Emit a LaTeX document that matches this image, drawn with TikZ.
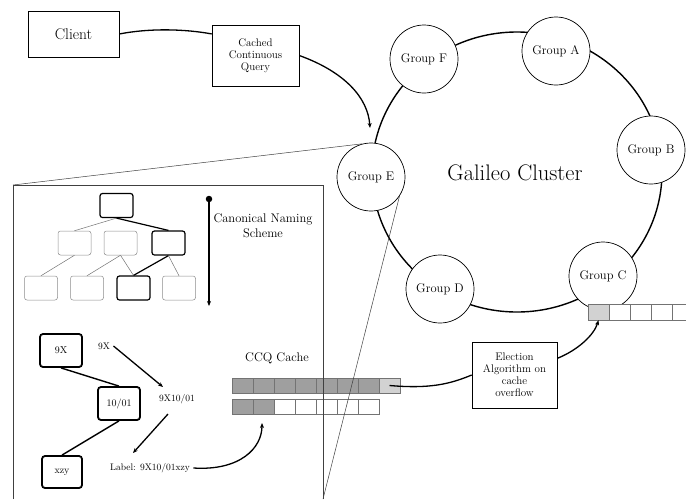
\documentclass[tikz,border=0pt]{standalone}
\usetikzlibrary{arrows.meta,calc}
\begin{document}
\begin{tikzpicture}[x=1pt,y=-1pt,
  box/.style={draw, line width=0.6pt, rectangle, inner sep=2pt, align=center},
  grp/.style={draw, circle, fill=white, line width=0.7pt, minimum size=68pt, inner sep=0pt, font=\fontsize{12.5}{14}\selectfont},
  tbox/.style={draw=black!45, rectangle, rounded corners=2.5pt, minimum width=33pt, minimum height=24pt, inner sep=0pt, line width=0.5pt},
  tboxb/.style={tbox, draw=black, line width=1.2pt},
  tedge/.style={draw=black!55, line width=0.5pt},
  tedgeb/.style={draw=black, line width=1.2pt},
  lbox/.style={draw, rectangle, rounded corners=3pt, line width=1.8pt, minimum width=42pt, minimum height=33pt, inner sep=0pt, font=\fontsize{10}{11}\selectfont},
  small/.style={font=\fontsize{9.5}{11}\selectfont},
  conn/.style={line width=1.3pt},
  arr/.style={conn, -{Stealth[length=5pt,width=4pt]}},
  zline/.style={draw=black!75, line width=0.5pt},
  dcell/.style={draw=gray!90!black, fill=gray!75, minimum width=21pt, minimum height=15pt, inner sep=0pt, line width=0.4pt},
  lcell/.style={dcell, fill=gray!35},
  wcell/.style={dcell, fill=white},
  gcell/.style={lcell, minimum height=16pt},
  gwcell/.style={wcell, minimum height=16pt}]
\useasboundingbox (0,0) rectangle (686,499);

% Galileo cluster ring
\draw[line width=1.4pt] (517,172) ellipse [x radius=145pt, y radius=140pt];
\node[font=\fontsize{22.5}{26}\selectfont] (gal) at (515,173) {Galileo Cluster};
\node[grp] (gA) at (556,51) {Group A};
\node[grp] (gB) at (651,150) {Group B};
\node[grp] (gC) at (603,276) {Group C};
\node[grp] (gD) at (440,289) {Group D};
\node[grp] (gE) at (371,177) {Group E};
\node[grp] (gF) at (424,59) {Group F};

% Group C cache row
\foreach \i/\s in {1/gcell,2/gwcell,3/gwcell,4/gwcell,5/gwcell}
  \node[\s] (gc\i) at ({588+21*(\i-1)+10.5},312) {};

% client and query
\node[box, minimum width=91pt, minimum height=46pt, font=\fontsize{15.5}{18}\selectfont] (client) at (73.5,34) {Client};
\node[box, minimum width=87pt, minimum height=61pt, font=\fontsize{11}{12}\selectfont] (ccq) at (255.5,55.5) {Cached\\Continuous\\Query};
\coordinate (ccqin) at ($(ccq.north west)!0.15!(ccq.south west)$);
\coordinate (ringtip) at (370,128);
\draw[conn] (client.east) .. controls (150,28) and (185,29) .. (ccqin);
\draw[arr] (ccq.east) .. controls (345,72) and (368,98) .. (ringtip);

% inset frame and zoom lines
\coordinate (zTL) at (13,185);
\coordinate (zTR) at (323,185);
\coordinate (zBL) at (13,499);
\coordinate (zBR) at (323,499);
\draw[zline] (zBL) -- (zTL) -- (zTR) -- (zBR);

% naming tree
\node[tboxb] (r) at (116.5,205.5) {};
\node[tbox] (la) at (74.5,243) {};
\node[tbox] (lb) at (120.5,243) {};
\node[tboxb] (lc) at (168.5,243) {};
\node[tbox] (ma) at (41,288) {};
\node[tbox] (mb) at (87,288) {};
\node[tboxb] (mc) at (133.5,288) {};
\node[tbox] (md) at (179,288) {};
\draw[tedge] (r.south) -- (la.north);
\draw[tedgeb] (r.south) -- (lc.north);
\draw[tedge] (la.south) -- (ma.north);
\draw[tedge] (lb.south) -- (mb.north);
\draw[tedge] (lb.south) -- (mc.north);
\draw[tedgeb] (lc.south) -- (mc.north);
\draw[tedge] (lc.south) -- (md.north);

\node[circle, fill, inner sep=0pt, minimum size=6.5pt] (ndot) at (209,199) {};
\coordinate (ntip) at (209,306);
\draw[arr] (ndot) -- (ntip);
\node[font=\fontsize{12.5}{15}\selectfont, align=center] (cns) at (263,225.5) {Canonical Naming\\Scheme};

% label construction
\node[lbox] (n9x) at (61,350.5) {9X};
\node[lbox] (n1001) at (119,403.5) {10/01};
\node[lbox, minimum width=40pt, minimum height=32pt] (nxzy) at (62,472) {xzy};
\draw[line width=1.4pt] (n9x.south) -- (n1001.north);
\draw[line width=1.4pt] (n1001.south) -- (nxzy.north);
\node[small] (t9x) at (104,346) {9X};
\node[small] (t9x1001) at (177,399) {9X10/01};
\node[small] (tlabel) at (150,468) {Label: 9X10/01xzy};
\coordinate (a1e) at (163,387);
\coordinate (a2s) at (168,414);
\coordinate (a2e) at (133,453);
\draw[arr] (t9x.east) -- (a1e);
\draw[arr] (a2s) -- (a2e);

% CCQ cache
\node[font=\fontsize{12.5}{14}\selectfont] (cachet) at (277,358) {CCQ Cache};
\foreach \i/\s in {1/dcell,2/dcell,3/dcell,4/dcell,5/dcell,6/dcell,7/dcell,8/lcell}
  \node[\s] (c\i) at ({232+21*(\i-1)+10.5},385.5) {};
\foreach \i/\s in {1/dcell,2/dcell,3/wcell,4/wcell,5/wcell,6/wcell,7/wcell}
  \node[\s] (d\i) at ({232+21*(\i-1)+10.5},406.5) {};
\coordinate (cachetip) at (262,423);
\draw[arr] (tlabel.east) .. controls (240,471) and (262,448) .. (cachetip);

% zoom lines (on top)
\draw[zline] (gE.105) -- (zTL);
\draw[zline] (gE.-34) -- (zBR);
\draw[zline] (zTR) -- (zBR);

% election
\node[box, minimum width=85pt, minimum height=66pt, font=\fontsize{11}{12}\selectfont] (elect) at (514.5,375) {Election\\Algorithm on\\cache\\overflow};
\coordinate (elout) at ($(elect.east)!0.5!(elect.north east)$);
\draw[conn] (c8.center) .. controls (430,389) and (450,384) .. (elect.west);
\draw[arr] (elout) .. controls (578,350) and (594,335) .. (gc1.south);
\end{tikzpicture}
\end{document}
